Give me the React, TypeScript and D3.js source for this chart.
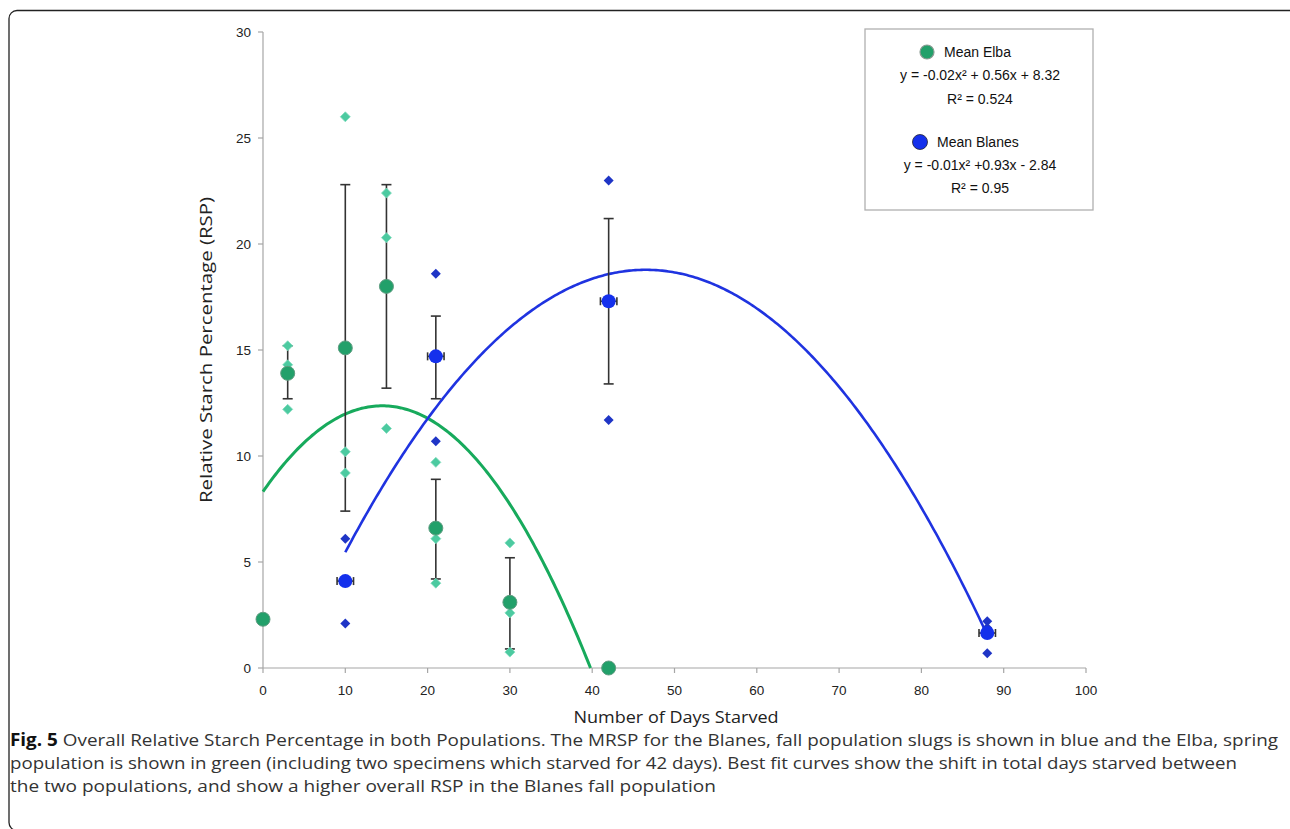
import React from "react";
import * as d3 from "d3";

// ---------- data ----------
const elbaDays = [0, 3, 10, 15, 21, 30, 42];
const elbaMeans = [2.3, 13.9, 15.1, 18.0, 6.6, 3.1, 0];
const elbaErrLow = [null, 12.7, 7.4, 13.2, 4.2, 0.9, null];
const elbaErrHigh = [null, 15.2, 22.8, 22.8, 8.9, 5.2, null];
const elbaIndivDays = [3, 3, 3, 10, 10, 10, 15, 15, 15, 21, 21, 21, 30, 30, 30];
const elbaIndivValues = [15.2, 14.3, 12.2, 26.0, 10.2, 9.2, 22.4, 20.3, 11.3, 9.7, 6.1, 4.0, 5.9, 2.6, 0.75];

const blanesDays = [10, 21, 42, 88];
const blanesMeans = [4.1, 14.7, 17.3, 1.65];
const blanesErrLow = [null, 12.7, 13.4, null];
const blanesErrHigh = [null, 16.6, 21.2, null];
const blanesXErr = [1, 1, 1, 1];
const blanesIndivDays = [10, 10, 21, 21, 42, 42, 88, 88, 88];
const blanesIndivValues = [6.1, 2.1, 18.6, 10.7, 23.0, 11.7, 2.2, 1.9, 0.7];

// trendline coefficients (a, b, c) as drawn
const elbaFit = [-0.0193, 0.559, 8.32];
const blanesFit = [-0.01, 0.93, -2.84];
const elbaFitRange = [0, 40];
const blanesFitRange = [10, 88];

const xTicks = [0, 10, 20, 30, 40, 50, 60, 70, 80, 90, 100];
const yTicks = [0, 5, 10, 15, 20, 25, 30];

const legendLines = [
  "Mean Elba",
  "y = -0.02x\u00B2 + 0.56x + 8.32",
  "R\u00B2 = 0.524",
  "Mean Blanes",
  "y = -0.01x\u00B2 +0.93x - 2.84",
  "R\u00B2 = 0.95",
];

const xTitle = "Number of Days Starved";
const yTitle = "Relative Starch Percentage (RSP)";
const captionLines = [
  { bold: "Fig. 5", text: " Overall Relative Starch Percentage in both Populations. The MRSP for the Blanes, fall population slugs is shown in blue and the Elba, spring" },
  { bold: "", text: "population is shown in green (including two specimens which starved for 42 days). Best fit curves show the shift in total days starved between" },
  { bold: "", text: "the two populations, and show a higher overall RSP in the Blanes fall population" },
];

// ---------- styles ----------
const GREEN_MEAN = "#22a06a";
const GREEN_DIAMOND = "#4ccaa0";
const GREEN_LINE = "#17aa5c";
const BLUE_MEAN = "#1430ec";
const BLUE_DIAMOND = "#1f35c6";
const BLUE_LINE = "#1f33e0";
const ERR = "#333";
const AXIS = "#a6a6a6";

export default function App() {
  const W = 1290, H = 829;
  const x = d3.scaleLinear().domain([0, 100]).range([263, 1086]);
  const y = d3.scaleLinear().domain([0, 30]).range([668, 32]);

  const quad = (c: number[]) => (v: number) => c[0] * v * v + c[1] * v + c[2];
  const fitPath = (c: number[], r: number[]) => {
    const f = quad(c);
    const pts: [number, number][] = [];
    for (let v = r[0]; v <= r[1] + 1e-9; v += 0.25) {
      const yy = f(v);
      if (yy < 0) {
        const root = (-c[1] - Math.sqrt(c[1] * c[1] - 4 * c[0] * c[2])) / (2 * c[0]);
        pts.push([root, 0]);
        break;
      }
      pts.push([v, yy]);
    }
    return d3.line<[number, number]>().x((d) => x(d[0])).y((d) => y(d[1]))(pts) || "";
  };

  const diamond = (cx: number, cy: number, r: number) =>
    `M${cx},${cy - r}L${cx + r},${cy}L${cx},${cy + r}L${cx - r},${cy}Z`;

  const tickFont = "'Liberation Sans', Arial, sans-serif";
  const capFont = "'Open Sans', sans-serif";

  return (
    <svg width={W} height={H} style={{ position: "absolute", left: 0, top: 0, background: "#fff" }}>
      {/* frame */}
      <rect x={9} y={10.5} width={1300} height={820} rx={8} fill="none" stroke="#222" strokeWidth={1.3} />

      {/* axes */}
      <line x1={x(0)} x2={x(0)} y1={y(30)} y2={y(0)} stroke={AXIS} strokeWidth={1.2} />
      <line x1={x(0)} x2={x(100)} y1={y(0)} y2={y(0)} stroke={AXIS} strokeWidth={1.2} />
      {yTicks.map((t) => (
        <g key={"yt" + t}>
          <line x1={x(0) - 5} x2={x(0)} y1={y(t)} y2={y(t)} stroke={AXIS} strokeWidth={1.2} />
          <text x={x(0) - 12} y={y(t) + 5} textAnchor="end" fontFamily={tickFont} fontSize={13.5} fill="#222">
            {t}
          </text>
        </g>
      ))}
      {xTicks.map((t) => (
        <g key={"xt" + t}>
          <line x1={x(t)} x2={x(t)} y1={y(0)} y2={y(0) + 5} stroke={AXIS} strokeWidth={1.2} />
          <text x={x(t)} y={y(0) + 27} textAnchor="middle" fontFamily={tickFont} fontSize={13.5} fill="#222">
            {t}
          </text>
        </g>
      ))}
      <text x={676} y={723} textAnchor="middle" fontFamily={capFont} fontSize={16} fill="#222" textLength={205} lengthAdjust="spacingAndGlyphs">
        {xTitle}
      </text>
      <text
        transform={`translate(212,350) rotate(-90)`}
        textAnchor="middle"
        fontFamily={capFont}
        fontSize={16}
        fill="#222"
        textLength={306}
        lengthAdjust="spacingAndGlyphs"
      >
        {yTitle}
      </text>

      {/* fit curves */}
      <path d={fitPath(elbaFit, elbaFitRange)} fill="none" stroke={GREEN_LINE} strokeWidth={3} />
      <path d={fitPath(blanesFit, blanesFitRange)} fill="none" stroke={BLUE_LINE} strokeWidth={2.6} />

      {/* error bars Elba */}
      {elbaDays.map((d, i) =>
        elbaErrLow[i] == null ? null : (
          <g key={"ee" + i} stroke={ERR} strokeWidth={1.6}>
            <line x1={x(d)} x2={x(d)} y1={y(elbaErrLow[i] as number)} y2={y(elbaErrHigh[i] as number)} />
            <line x1={x(d) - 5} x2={x(d) + 5} y1={y(elbaErrLow[i] as number)} y2={y(elbaErrLow[i] as number)} />
            <line x1={x(d) - 5} x2={x(d) + 5} y1={y(elbaErrHigh[i] as number)} y2={y(elbaErrHigh[i] as number)} />
          </g>
        )
      )}
      {/* error bars Blanes */}
      {blanesDays.map((d, i) => (
        <g key={"be" + i} stroke={ERR} strokeWidth={1.6}>
          {blanesErrLow[i] != null && (
            <>
              <line x1={x(d)} x2={x(d)} y1={y(blanesErrLow[i] as number)} y2={y(blanesErrHigh[i] as number)} />
              <line x1={x(d) - 5} x2={x(d) + 5} y1={y(blanesErrLow[i] as number)} y2={y(blanesErrLow[i] as number)} />
              <line x1={x(d) - 5} x2={x(d) + 5} y1={y(blanesErrHigh[i] as number)} y2={y(blanesErrHigh[i] as number)} />
            </>
          )}
          <line x1={x(d - blanesXErr[i])} x2={x(d + blanesXErr[i])} y1={y(blanesMeans[i])} y2={y(blanesMeans[i])} />
          <line x1={x(d - blanesXErr[i])} x2={x(d - blanesXErr[i])} y1={y(blanesMeans[i]) - 4} y2={y(blanesMeans[i]) + 4} />
          <line x1={x(d + blanesXErr[i])} x2={x(d + blanesXErr[i])} y1={y(blanesMeans[i]) - 4} y2={y(blanesMeans[i]) + 4} />
        </g>
      ))}

      {/* individual diamonds */}
      {elbaIndivDays.map((d, i) => (
        <path key={"ed" + i} d={diamond(x(d), y(elbaIndivValues[i]), 5)} fill={GREEN_DIAMOND} stroke="#7fdcbc" strokeWidth={0.8} />
      ))}
      {blanesIndivDays.map((d, i) => (
        <path key={"bd" + i} d={diamond(x(d), y(blanesIndivValues[i]), 5)} fill={BLUE_DIAMOND} />
      ))}

      {/* means */}
      {elbaDays.map((d, i) => (
        <circle key={"em" + i} cx={x(d)} cy={y(elbaMeans[i])} r={7} fill={GREEN_MEAN} stroke="#5e9c80" strokeWidth={1} />
      ))}
      {blanesDays.map((d, i) => (
        <circle key={"bm" + i} cx={x(d)} cy={y(blanesMeans[i])} r={7} fill={BLUE_MEAN} />
      ))}

      {/* legend */}
      <rect x={865} y={29} width={228} height={181} fill="#fff" stroke="#b0b0b0" strokeWidth={1.3} />
      <circle cx={927} cy={52} r={7} fill={GREEN_MEAN} stroke="#8a9a92" strokeWidth={1.2} />
      <text x={944} y={57} fontFamily={tickFont} fontSize={14} fill="#111">{legendLines[0]}</text>
      <text x={980} y={80} textAnchor="middle" fontFamily={tickFont} fontSize={14} fill="#111">{legendLines[1]}</text>
      <text x={980} y={104} textAnchor="middle" fontFamily={tickFont} fontSize={14} fill="#111">{legendLines[2]}</text>
      <circle cx={920} cy={142} r={7.5} fill={BLUE_MEAN} stroke="#223" strokeWidth={0.8} />
      <text x={937} y={147} fontFamily={tickFont} fontSize={14} fill="#111">{legendLines[3]}</text>
      <text x={980} y={170} textAnchor="middle" fontFamily={tickFont} fontSize={14} fill="#111">{legendLines[4]}</text>
      <text x={980} y={193} textAnchor="middle" fontFamily={tickFont} fontSize={14} fill="#111">{legendLines[5]}</text>

      {/* caption */}
      {captionLines.map((c, i) => (
        <text
          key={"cap" + i}
          x={10}
          y={746 + i * 23}
          fontFamily={capFont}
          fontSize={17}
          fill="#333"
          textLength={[1268, 1227, 706][i]}
          lengthAdjust="spacingAndGlyphs"
        >
          {c.bold && <tspan fontWeight="bold" fill="#111">{c.bold}</tspan>}
          {c.text}
        </text>
      ))}
    </svg>
  );
}
